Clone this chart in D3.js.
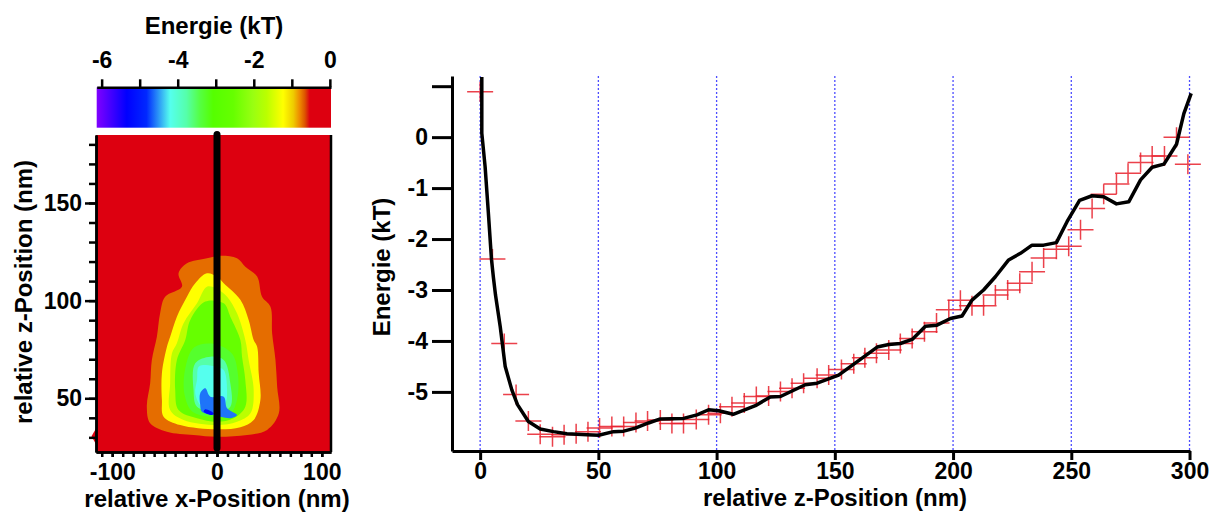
<!DOCTYPE html>
<html>
<head>
<meta charset="utf-8">
<script src="https://cdn.jsdelivr.net/npm/d3@7"></script>
<style>
    body { margin: 0; background: #ffffff; }
    svg text { font-family: "Liberation Sans", Arial, sans-serif; font-weight: bold; fill: #000; }
</style>
</head>
<body>
<div id="chart"></div>
<script>
// energy profile along z (black line)
var profileZ = [0.7, 0.7, 2.1, 3.5, 4.8, 5.6, 6.5, 8.5, 10.6, 13.4, 15.8, 20.4, 25.4, 31, 36.7, 45.2, 50.1, 56.4, 60.7, 65.6, 71.2,
    76.2, 86, 91.7, 96.6, 100.9, 107, 116.4, 122.7, 127, 137.5, 142.5, 151.6, 160.5, 167.9, 172.8, 177.7, 182.7, 188.3,
    193.2, 198.9, 203.8, 208, 212.9, 217.9, 223.5, 228.5, 233.4, 238.3, 243.7, 248.2, 253.5, 258.8, 263.7, 269.1, 274.3,
    279.3, 284.2, 289.2, 294.5, 297.6, 300.7];
var profileE = [1.18, 0.08, -0.58, -1.5, -2.4, -2.75, -3.1, -3.72, -4.5, -4.96, -5.25, -5.58, -5.73, -5.78, -5.82, -5.84, -5.85, -5.78, -5.77, -5.71, -5.61,
    -5.53, -5.52, -5.45, -5.35, -5.37, -5.44, -5.27, -5.1, -5.09, -4.86, -4.83, -4.67, -4.37, -4.12, -4.07, -4.05, -3.97, -3.71,
    -3.69, -3.56, -3.51, -3.2, -3.0, -2.74, -2.41, -2.28, -2.12, -2.12, -2.07, -1.66, -1.24, -1.15, -1.17, -1.31, -1.27,
    -0.84, -0.59, -0.53, -0.14, 0.46, 0.86];

// measured points (red crosses)
var pointsZ = [0, 5.2, 10.2, 15.2, 20.4, 25.4, 30.6, 35.5, 40.6, 45.6, 50.5, 55.7, 60.7, 65.9, 70.8, 76.2, 81.1, 86, 91.4, 96.6,
    101.6, 106.5, 111.7, 116.8, 122, 127, 131.9, 136.8, 142.5, 147.4, 152.8, 158, 162.7, 167.6, 172.8, 177.7, 182.7, 187.9,
    193, 198.2, 203.1, 208, 212.9, 217.9, 223.1, 228.2, 233.4, 238.3, 243.7, 248.9, 253.9, 258.8, 263.7, 269.1, 274, 279.3,
    284.2, 289.4, 294.5, 299.3];
var pointsE = [0.89, -2.39, -4.05, -5.05, -5.57, -5.83, -5.88, -5.84, -5.82, -5.78, -5.71, -5.68, -5.68, -5.6, -5.57, -5.55, -5.62, -5.62, -5.54, -5.45,
    -5.42, -5.29, -5.22, -5.09, -5.08, -4.99, -4.93, -4.83, -4.73, -4.67, -4.56, -4.45, -4.33, -4.24, -4.18, -4.05, -3.95, -3.82,
    -3.65, -3.39, -3.2, -3.31, -3.31, -3.1, -3.0, -2.87, -2.64, -2.37, -2.2, -2.14, -1.82, -1.4, -1.12, -0.92, -0.71, -0.5,
    -0.37, -0.37, 0.0, -0.53];

var energyTicks = [1, 0, -1, -2, -3, -4, -5];
var zTicks = [0, 50, 100, 150, 200, 250, 300];
var colorbarTicks = [-6, -5, -4, -3, -2, -1, 0];
var colorbarLabels = [-6, -4, -2, 0];
var mapZLabels = [50, 100, 150];
var mapXLabels = [-100, 0, 100];

// colour table of the energy scale
var stopValues = [-6.13, -5.34, -4.82, -4.2, -3.77, -3.42, -3.07, -2.54, -2.02, -1.66, -1.23, -0.96, -0.79, -0.66, -0.53, 0.03];
var stopColors = ["#8000ff", "#0000ff", "#0028ff", "#55ffee", "#55ffaa", "#55ff44", "#55ff00", "#66ff00", "#99ff11", "#bbff00",
    "#ffff00", "#eecc00", "#ee8800", "#dd5500", "#dd0010", "#dd0010"];

// contour levels of the x/z map and their outlines [x, z] in nm
var contourLevels = [-0.72, -1.23, -1.66, -2.54, -3.3, -3.77, -4.2, -4.6, -5.2];
var outline1 = [[-9.6, 121.7], [-28.7, 119.1], [-36.7, 114], [-33.5, 107.1], [-49.5, 102], [-54.3, 93.5], [-57.4, 81.5], [-62.2, 69.6],
    [-63.8, 57.7], [-67, 45.7], [-63.8, 37.2], [-47.8, 32.9], [-22.4, 31.2], [0, 30.3], [28.7, 31.2], [47.8, 33.8], [59, 42.3],
    [57.4, 55.9], [55.8, 69.6], [52.6, 83.3], [51, 96.9], [43, 102], [38.3, 112.3], [27, 117.4], [19.1, 121.7], [3.2, 123]];
var outline2 = [[-9.6, 114], [-20.8, 108.9], [-28.7, 102], [-38.3, 91.8], [-44.7, 81.5], [-47.8, 76.4], [-52.6, 62.8], [-52.6, 49.1],
    [-51, 40.6], [-35.1, 36.3], [0, 34.1], [22.3, 35.2], [35, 38.9], [41.4, 49.1], [39.8, 62.8], [38.3, 76.4], [35, 79.9],
    [30.2, 90.1], [22.3, 100.4], [6.4, 108.9], [0, 112.3]];
var outline3 = [[-9.6, 107.1], [-19.1, 98.6], [-31.9, 88.4], [-38.3, 78.2], [-43, 73], [-44.7, 57.7], [-44.7, 44], [-31.9, 38.9],
    [0, 36.3], [19.1, 38], [31.9, 42.3], [35, 54.3], [30.2, 69.6], [27, 79.9], [19.1, 93.5], [9.6, 102], [0, 106]];
var outline4 = [[-11.2, 99.5], [-25.5, 90.1], [-30.3, 79.9], [-38.3, 69.6], [-39.9, 54.3], [-36.7, 44], [-19.1, 39.8], [0, 38],
    [15.9, 39.8], [27, 45.7], [27, 59.4], [23.9, 71.3], [22.3, 79.9], [12.7, 91.8], [6.4, 98.6]];
var outline5 = [[-5, 78], [-22, 76], [-30, 66], [-31, 52], [-23, 43], [0, 40.6], [13, 42.3], [19, 49], [20, 62], [14, 73]];
var outline6 = [[-6.4, 71.3], [-20.8, 67.9], [-22.4, 54.3], [-19.1, 45.7], [0, 43.1], [12.7, 45.7], [12.7, 57.7], [6.4, 69.6]];
var outline7 = [[-11.2, 67], [-17.5, 66.2], [-19.1, 59.4], [-20.8, 52.6], [-14.4, 45.7], [0, 44.9], [7.9, 47.5], [9.6, 54.3],
    [6.4, 64.5], [0, 66]];
var outline8 = [[-11.2, 55.1], [-16, 52.6], [-16, 46.6], [-14.4, 43.1], [-3.2, 41.4], [12.7, 39.8], [19.1, 41.4], [9.6, 44.9],
    [6.4, 50.8], [-6.4, 50.8]];
var outline9 = [[-12.7, 43.1], [-4.8, 41.4], [-3.2, 42.3], [-11.2, 44.4]];
var contourOutlines = [outline1, outline2, outline3, outline4, outline5, outline6, outline7, outline8, outline9];

var svg = d3.select("#chart").append("svg")
    .attr("width", 1213)
    .attr("height", 513);

var colour = d3.scaleLinear().domain(stopValues).range(stopColors);

function styleAxis(g, width) {
    g.attr("font-size", null).attr("font-family", null);
    g.selectAll(".domain").attr("stroke", "#000").attr("stroke-width", width);
    g.selectAll(".tick line").attr("stroke", "#000").attr("stroke-width", width);
    g.selectAll("text").style("font-size", "23px");
}

//--------------- colour bar ---------------
var cbScale = d3.scaleLinear().domain([-6.13, 0.03]).range([96.7, 331]);
var cbTop = 87.3, cbHeight = 40.4;

var grad = svg.append("defs").append("linearGradient")
    .attr("id", "cbGrad")
    .attr("x1", "0").attr("x2", "1").attr("y1", "0").attr("y2", "0");
grad.selectAll("stop")
    .data(stopValues)
    .enter().append("stop")
    .attr("offset", function (d) { return (cbScale(d) - 96.7) / (331 - 96.7); })
    .attr("stop-color", function (d, i) { return stopColors[i]; });

svg.append("rect")
    .attr("x", 96.7).attr("y", cbTop)
    .attr("width", 331 - 96.7).attr("height", cbHeight)
    .attr("fill", "url(#cbGrad)");

var cbAxis = svg.append("g")
    .attr("transform", "translate(0," + cbTop + ")")
    .call(d3.axisTop(cbScale)
        .tickValues(colorbarTicks)
        .tickSize(8)
        .tickSizeOuter(0)
        .tickPadding(11)
        .tickFormat(function (d) { return colorbarLabels.indexOf(d) >= 0 ? String(d) : ""; }));
styleAxis(cbAxis, 2.5);

svg.append("text")
    .attr("x", 214).attr("y", 34)
    .attr("text-anchor", "middle")
    .style("font-size", "24px")
    .text("Energie (kT)");

//--------------- x/z energy map ---------------
var xL = d3.scaleLinear().domain([-115.5, 108.8]).range([96, 331]);
var zL = d3.scaleLinear().domain([22.5, 184.8]).range([452, 135]);

svg.append("clipPath").attr("id", "mapClip")
    .append("rect")
    .attr("x", 96).attr("y", 135).attr("width", 235).attr("height", 317);

var map = svg.append("g").attr("clip-path", "url(#mapClip)");
map.append("rect")
    .attr("x", 96).attr("y", 135).attr("width", 235).attr("height", 317)
    .attr("fill", colour(0));

var contourLine = d3.line()
    .x(function (d) { return xL(d[0]); })
    .y(function (d) { return zL(d[1]); })
    .curve(d3.curveCatmullRomClosed.alpha(0.5));

map.selectAll("path.level")
    .data(contourOutlines)
    .enter().append("path")
    .attr("class", "level")
    .attr("d", contourLine)
    .attr("fill", function (d, i) { return colour(contourLevels[i]); });

// cut line at x = 0
svg.append("line")
    .attr("x1", xL(0)).attr("x2", xL(0))
    .attr("y1", zL(24.5)).attr("y2", zL(185))
    .attr("stroke", "#000")
    .attr("stroke-width", 7)
    .attr("stroke-linecap", "round");

svg.append("path")
    .attr("d", d3.symbol(d3.symbolDiamond, 70)())
    .attr("transform", "translate(" + xL(-115.5) + "," + zL(30.5) + ")")
    .attr("fill", colour(0));

var mapLeftMinor = svg.append("g")
    .attr("transform", "translate(96,0)")
    .call(d3.axisLeft(zL).tickValues(d3.range(30, 181, 10)).tickSize(7).tickSizeOuter(0).tickFormat(""));
styleAxis(mapLeftMinor, 2.5);
var mapLeft = svg.append("g")
    .attr("transform", "translate(96,0)")
    .call(d3.axisLeft(zL).tickValues(mapZLabels).tickSize(11).tickSizeOuter(0).tickPadding(3)
        .tickFormat(function (d) { return String(d); }));
styleAxis(mapLeft, 2.5);

var mapBottom = svg.append("g")
    .attr("transform", "translate(0,452)")
    .call(d3.axisBottom(xL).tickValues(d3.range(-110, 101, 10)).tickSize(5).tickSizeOuter(0).tickFormat(""));
styleAxis(mapBottom, 2.5);
var mapBottomLab = svg.append("g")
    .attr("transform", "translate(0,452)")
    .call(d3.axisBottom(xL).tickValues(mapXLabels).tickSize(5).tickSizeOuter(0).tickPadding(7)
        .tickFormat(function (d) { return String(d); }));
styleAxis(mapBottomLab, 2.5);

svg.append("line")
    .attr("x1", 331).attr("x2", 331).attr("y1", 135).attr("y2", 452)
    .attr("stroke", "#000").attr("stroke-width", 2.5);

svg.append("text")
    .attr("transform", "translate(32,292) rotate(-90)")
    .attr("text-anchor", "middle")
    .style("font-size", "24px")
    .text("relative z-Position (nm)");

svg.append("text")
    .attr("x", 217).attr("y", 507)
    .attr("text-anchor", "middle")
    .style("font-size", "24px")
    .text("relative x-Position (nm)");

//--------------- energy profile ---------------
var xR = d3.scaleLinear().domain([-11.9, 300.2]).range([452, 1190]);
var yR = d3.scaleLinear().domain([-6.16, 1.2]).range([451, 76]);

svg.selectAll("line.grid")
    .data(zTicks)
    .enter().append("line")
    .attr("class", "grid")
    .attr("x1", function (d) { return xR(d); })
    .attr("x2", function (d) { return xR(d); })
    .attr("y1", yR(1.2)).attr("y2", yR(-6.16))
    .attr("stroke", "#4d4dff")
    .attr("stroke-width", 1.3)
    .attr("stroke-dasharray", "2,2");

var crosses = svg.append("g");
crosses.selectAll("path")
    .data(pointsZ)
    .enter().append("path")
    .attr("d", function (d, i) {
        var cx = xR(d), cy = yR(pointsE[i]);
        return "M" + (cx - 13) + "," + cy + "H" + (cx + 13) + "M" + cx + "," + (cy - 10) + "V" + (cy + 10);
    })
    .attr("fill", "none")
    .attr("stroke", "#e8202c")
    .attr("stroke-opacity", 0.85)
    .attr("stroke-width", 1.5);

var profileLine = d3.line()
    .x(function (d) { return xR(d); })
    .y(function (d, i) { return yR(profileE[i]); });

svg.append("path")
    .attr("d", profileLine(profileZ))
    .attr("fill", "none")
    .attr("stroke", "#000")
    .attr("stroke-width", 3.5)
    .attr("stroke-linejoin", "round");

var yAxisR = svg.append("g")
    .attr("transform", "translate(452,0)")
    .call(d3.axisLeft(yR).tickValues(energyTicks).tickSize(20).tickSizeOuter(0).tickPadding(4)
        .tickFormat(function (d) { return d === 1 ? "" : String(d); }));
styleAxis(yAxisR, 3);

var xAxisR = svg.append("g")
    .attr("transform", "translate(0,451)")
    .call(d3.axisBottom(xR).tickValues(zTicks).tickSize(9).tickSizeOuter(0).tickPadding(3)
        .tickFormat(function (d) { return String(d); }));
styleAxis(xAxisR, 3);

svg.append("text")
    .attr("transform", "translate(390,267) rotate(-90)")
    .attr("text-anchor", "middle")
    .style("font-size", "24px")
    .text("Energie (kT)");

svg.append("text")
    .attr("x", 835).attr("y", 506)
    .attr("text-anchor", "middle")
    .style("font-size", "24px")
    .text("relative z-Position (nm)");
</script>
</body>
</html>
